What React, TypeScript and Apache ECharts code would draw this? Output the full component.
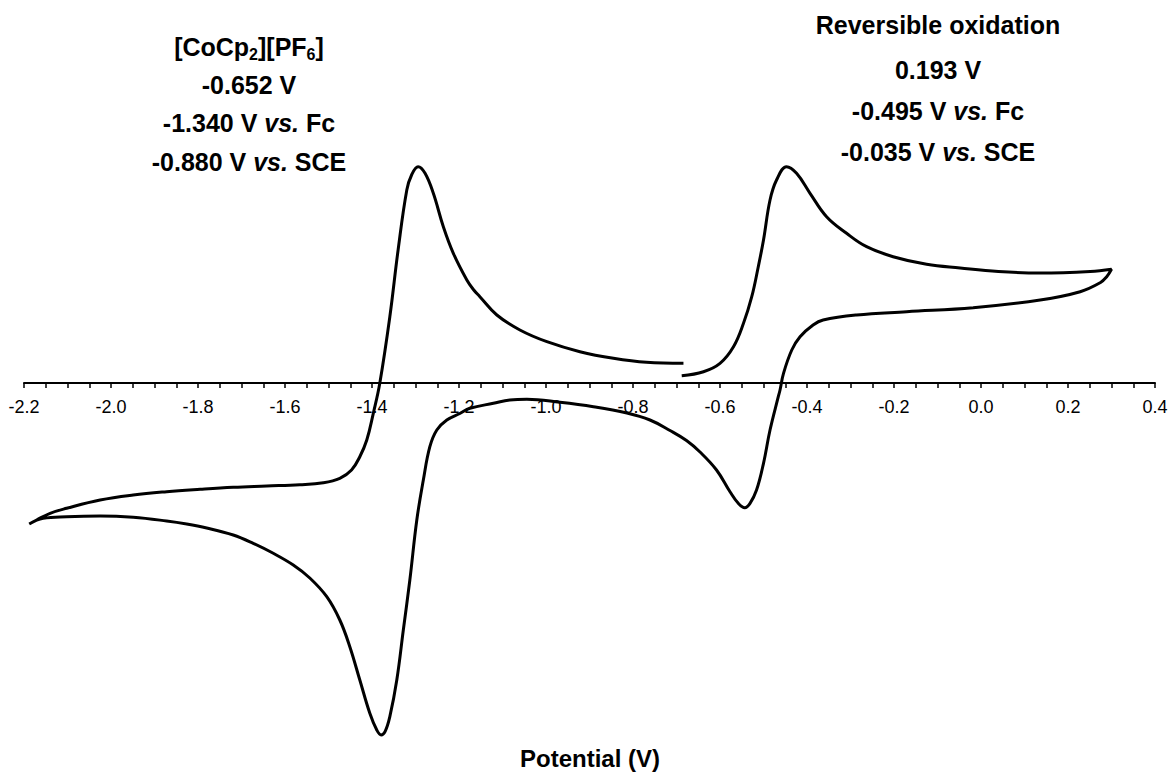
import React, { useEffect, useRef } from "react";
import * as echarts from "echarts";

// Scan order: start at -0.69 V, sweep positive to 0.30 V, back to -2.19 V, then forward to -0.68 V
const scanPotential = [
  -0.688, -0.638, -0.6, -0.569, -0.546, -0.527, -0.512, -0.5, -0.485, -0.47, -0.447, -0.424, -0.393, -0.355,
  -0.309, -0.263, -0.202, -0.125, -0.048, 0.04, 0.136, 0.251, 0.3, 0.289, 0.274, 0.228, 0.136, -0.018,
  -0.171, -0.286, -0.363, -0.386, -0.416, -0.435, -0.454, -0.462, -0.466, -0.485, -0.5, -0.516, -0.531,
  -0.543, -0.558, -0.577, -0.608, -0.646, -0.677, -0.715, -0.761, -0.814, -0.891, -0.968, -1.044, -1.083,
  -1.121, -1.175, -1.198, -1.228, -1.251, -1.267, -1.282, -1.297, -1.313, -1.328, -1.343, -1.359, -1.37,
  -1.379, -1.389, -1.405, -1.428, -1.451, -1.474, -1.504, -1.543, -1.581, -1.627, -1.673, -1.719, -1.78,
  -1.826, -1.872, -1.949, -2.025, -2.102, -2.156, -2.188, -2.171, -2.14, -2.102, -2.025, -1.949, -1.872,
  -1.795, -1.719, -1.642, -1.566, -1.512, -1.474, -1.447, -1.428, -1.412, -1.397, -1.382, -1.359, -1.34,
  -1.32, -1.309, -1.294, -1.278, -1.259, -1.236, -1.213, -1.182, -1.167, -1.152, -1.113, -1.06, -0.998, -0.922,
  -0.845, -0.769, -0.684,
];
const scanCurrent = [
  0.73, 1.13, 1.97, 3.63, 5.97, 8.63, 11.63, 14.3, 18.3, 20.3, 21.63, 20.97, 18.97, 16.63,
  14.97, 13.63, 12.63, 11.87, 11.5, 11.15, 11.0, 11.15, 11.37, 10.63, 10.03, 9.13, 8.3, 7.53,
  7.13, 6.8, 6.3, 5.8, 4.63, 3.3, 0.97, -0.7, -1.37, -4.7, -8.03, -10.7, -12.03,
  -12.47, -12.03, -10.87, -8.7, -6.9, -5.75, -4.75, -3.7, -3.0, -2.37, -1.93, -1.63, -1.7,
  -2.03, -2.53, -3.05, -3.7, -4.7, -6.37, -9.7, -13.7, -19.7, -24.7, -29.7, -33.37, -34.87,
  -35.2, -34.7, -33.03, -29.7, -26.37, -23.7, -21.37, -19.5, -18.2, -17.03, -16.03, -15.2, -14.5,
  -14.1, -13.8, -13.43, -13.3, -13.37, -13.53, -14.1, -13.7, -13.03, -12.53, -11.7, -11.2, -10.87,
  -10.63, -10.43, -10.3, -10.17, -9.97, -9.53, -8.7, -7.37, -5.7, -3.03, 0.0, 6.63, 13.3,
  19.3, 20.8, 21.63, 20.97, 18.97, 15.63, 12.97, 10.3, 9.35, 8.63, 6.8, 5.3, 4.13, 3.13,
  2.47, 2.07, 1.97,
];

const leftNotes = ["[CoCp{sub|2}][PF{sub|6}]", "-0.652 V", "-1.340 V {it|vs.} Fc", "-0.880 V {it|vs.} SCE"];
const rightNotes = ["Reversible oxidation", "0.193 V", "-0.495 V {it|vs.} Fc", "-0.035 V {it|vs.} SCE"];
const xAxisTitle = "Potential (V)";

const FONT = '"Liberation Sans", Arial, Helvetica, sans-serif';

export default function App() {
  const ref = useRef<HTMLDivElement>(null);
  useEffect(() => {
    if (!ref.current) return;
    const chart = echarts.init(ref.current, undefined, { renderer: "svg" });
    const rich = {
      sub: { fontSize: 16, fontWeight: "bold", fontFamily: FONT, fill: "#000", verticalAlign: "bottom", lineHeight: 31 },
      it: { fontSize: 25, fontWeight: "bold", fontStyle: "italic", fontFamily: FONT, fill: "#000", lineHeight: 31 },
    };
    const note = (text: string, x: number, y: number) => ({
      type: "text",
      x,
      y,
      style: {
        text,
        fontSize: 25,
        fontWeight: "bold",
        fontFamily: FONT,
        fill: "#000",
        lineHeight: 31,
        align: "center",
        verticalAlign: "middle",
        textAlign: "center",
        textVerticalAlign: "middle",
        rich,
      },
    });
    const leftY = [47, 85, 123, 162];
    const rightY = [25, 70, 111, 152];
    const graphics: any[] = [];
    leftNotes.forEach((t, i) => graphics.push(note(t, 249, leftY[i])));
    rightNotes.forEach((t, i) => graphics.push(note(t, 938, rightY[i])));
    graphics.push({
      type: "text",
      x: 590,
      y: 758,
      style: {
        text: xAxisTitle,
        fontSize: 24,
        fontWeight: "bold",
        fontFamily: FONT,
        fill: "#000",
        align: "center",
        verticalAlign: "middle",
        textAlign: "center",
        textVerticalAlign: "middle",
      },
    });

    chart.setOption({
      animation: false,
      backgroundColor: "#fff",
      grid: { left: 24, right: 16, top: 3, bottom: 389, containLabel: false, outerBoundsMode: "none" },
      xAxis: {
        type: "value",
        min: -2.2,
        max: 0.4,
        interval: 0.2,
        axisLine: { onZero: false, lineStyle: { color: "#000", width: 2 } },
        axisTick: { show: true, inside: false, length: 5, lineStyle: { color: "#000", width: 1.5 } },
        minorTick: { show: true, splitNumber: 4, length: 5, lineStyle: { color: "#000", width: 1.5 } },
        axisLabel: {
          color: "#000",
          fontSize: 18,
          fontFamily: FONT,
          margin: 15,
          showMinLabel: true,
          showMaxLabel: true,
          formatter: (v: number) => v.toFixed(1),
        },
        splitLine: { show: false },
        minorSplitLine: { show: false },
      },
      yAxis: { type: "value", min: 0, max: 38, show: false, splitLine: { show: false } },
      graphic: graphics,
      series: [
        {
          type: "line",
          data: scanPotential.map((v, i) => [v, scanCurrent[i]]),
          showSymbol: false,
          smooth: 0.4,
          clip: false,
          lineStyle: { color: "#000", width: 3 },
          z: 3,
        },
      ],
    });
    return () => chart.dispose();
  }, []);
  return <div ref={ref} style={{ position: "absolute", left: 0, top: 0, width: 1171, height: 772 }} />;
}
